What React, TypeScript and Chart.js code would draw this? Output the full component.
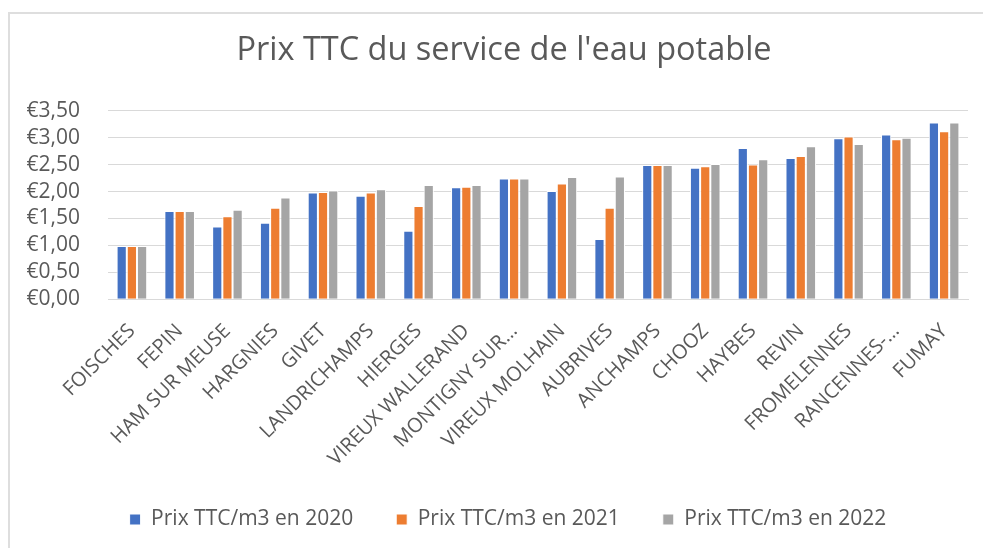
import React, { useEffect, useRef } from "react";
import { Chart, registerables } from "chart.js";

Chart.register(...registerables);

const categories = [
  "FOISCHES", "FEPIN", "HAM SUR MEUSE", "HARGNIES", "GIVET", "LANDRICHAMPS",
  "HIERGES", "VIREUX WALLERAND", "MONTIGNY SUR…", "VIREUX MOLHAIN", "AUBRIVES",
  "ANCHAMPS", "CHOOZ", "HAYBES", "REVIN", "FROMELENNES", "RANCENNES-…", "FUMAY",
];
const seriesNames = ["Prix TTC/m3 en 2020", "Prix TTC/m3 en 2021", "Prix TTC/m3 en 2022"];
const prix2020 = [0.99, 1.64, 1.35, 1.42, 1.98, 1.92, 1.27, 2.08, 2.24, 2.01, 1.12, 2.49, 2.44, 2.81, 2.62, 2.99, 3.06, 3.28];
const prix2021 = [0.99, 1.64, 1.54, 1.70, 1.99, 1.98, 1.73, 2.09, 2.24, 2.15, 1.70, 2.49, 2.47, 2.50, 2.66, 3.02, 2.97, 3.12];
const prix2022 = [0.99, 1.64, 1.66, 1.89, 2.02, 2.04, 2.12, 2.12, 2.24, 2.27, 2.28, 2.49, 2.51, 2.60, 2.84, 2.88, 3.00, 3.28];
const colors = ["#4472C4", "#ED7D31", "#A5A5A5"];
const titleText = "Prix TTC du service de l'eau potable";

export default function App() {
  const ref = useRef<HTMLCanvasElement | null>(null);
  useEffect(() => {
    if (!ref.current) return;
    const font = "'Open Sans', sans-serif";
    const txt = "#595959";
    const shiftPlugin = {
      id: "shiftBoxes",
      afterLayout(chart: any) {
        if (chart.legend) { chart.legend.left += 14; chart.legend.right += 14; }
        if (chart.titleBlock) { chart.titleBlock.left += 10; chart.titleBlock.right += 10; }
      },
    };
    const chart = new Chart(ref.current, {
      type: "bar",
      data: {
        labels: categories,
        datasets: [prix2020, prix2021, prix2022].map((d, i) => ({
          label: seriesNames[i],
          data: d,
          backgroundColor: colors[i],
          borderColor: "#ffffff",
          borderWidth: 1,
          categoryPercentage: 0.64,
          barPercentage: 1,
        })),
      },
      plugins: [shiftPlugin],
      options: {
        responsive: false,
        animation: false,
        layout: { padding: { left: 20, right: 15, top: 0, bottom: 8 } },
        plugins: {
          title: {
            display: true,
            text: titleText,
            color: txt,
            font: { family: font, size: 32.5, weight: "normal" },
            padding: { top: 31, bottom: 40.7 },
          },
          legend: {
            position: "bottom",
            labels: {
              color: txt,
              font: { family: font, size: 21 },
              boxWidth: 11,
              boxHeight: 11,
              padding: 43,
            },
          },
          tooltip: { enabled: false },
        },
        scales: {
          x: {
            grid: { display: false, drawTicks: false },
            border: { color: "#d9d9d9", width: 1 },
            ticks: {
              color: txt,
              font: { family: font, size: 20 },
              maxRotation: 45,
              minRotation: 45,
              autoSkip: false,
              padding: 20,
            },
            afterFit: (s: any) => { s.height = 166.7; },
          },
          y: {
            min: 0,
            max: 3.5,
            grid: { color: "#d9d9d9", lineWidth: 1, drawTicks: false },
            border: { display: false },
            ticks: {
              stepSize: 0.5,
              autoSkip: false,
              color: txt,
              font: { family: font, size: 21 },
              padding: 28,
              callback: (v: any) => "€" + Number(v).toFixed(2).replace(".", ","),
            },
            afterFit: (s: any) => { s.width = 88; },
          },
        },
      },
    });
    return () => chart.destroy();
  }, []);
  return (
    <div style={{ position: "fixed", left: 0, top: 0, width: 983, height: 548, background: "#fff", overflow: "hidden" }}>
      <div style={{ position: "absolute", left: 8, top: 12, right: 0, bottom: 0, borderTop: "2px solid #dedede", borderLeft: "2px solid #dedede" }} />
      <canvas ref={ref} width={983} height={548} style={{ position: "absolute", left: 0, top: 0 }} />
    </div>
  );
}
